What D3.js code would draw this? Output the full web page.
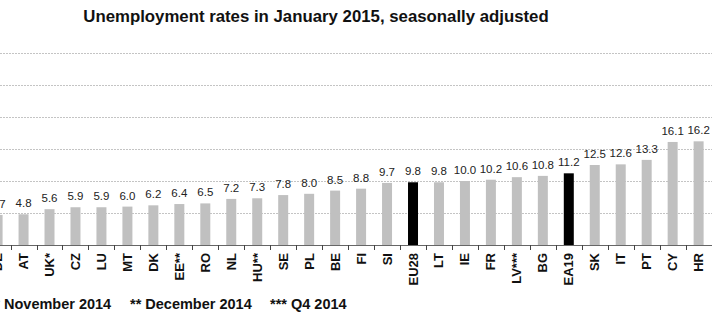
<!DOCTYPE html>
<html>
<head>
<meta charset="utf-8">
<style>
body { margin: 0; background: #fff; overflow: hidden; }
svg { display: block; font-family: "Liberation Sans", Arial, sans-serif; }
</style>
</head>
<body>
<div id="chart"></div>
<script src="https://cdn.jsdelivr.net/npm/d3@7"></script>
<script>
// countries shown, ordered by rate
var countries = ["DE", "AT", "UK*", "CZ", "LU", "MT", "DK", "EE**", "RO", "NL", "HU**", "SE", "PL", "BE", "FI", "SI",
                 "EU28", "LT", "IE", "FR", "LV***", "BG", "EA19", "SK", "IT", "PT", "CY", "HR"]
var rates = [4.7, 4.8, 5.6, 5.9, 5.9, 6.0, 6.2, 6.4, 6.5, 7.2, 7.3, 7.8, 8.0, 8.5, 8.8, 9.7,
             9.8, 9.8, 10.0, 10.2, 10.6, 10.8, 11.2, 12.5, 12.6, 13.3, 16.1, 16.2]
var aggregates = ["EU28", "EA19"]
var gridValues = [5, 10, 15, 20, 25, 30]
var footnotes = ["* November 2014", "** December 2014", "*** Q4 2014"]

var W = 712, H = 326
var svg = d3.select("#chart").append("svg")
    .attr("width", W).attr("height", H)

var data = countries.map(function(c, i){ return {country: c, value: rates[i]} })

// band scale starts a bit off the left edge (chart is cropped)
var step = 25.95
var x = d3.scaleBand()
    .domain(countries)
    .range([-15.2, -15.2 + step * countries.length])
    .paddingInner(0.615)
    .paddingOuter(0.3)

var y = d3.scaleLinear().domain([0, 30]).range([245, 53])

// title
svg.append("text")
    .attr("x", 316).attr("y", 22)
    .attr("text-anchor", "middle")
    .style("font-size", "16.8px").style("font-weight", "bold").style("fill", "#111")
    .text("Unemployment rates in January 2015, seasonally adjusted")

// grid
svg.append("g").selectAll("line")
    .data(gridValues)
    .enter().append("line")
    .attr("x1", 0).attr("x2", W)
    .attr("y1", d => Math.round(y(d)) + 0.5).attr("y2", d => Math.round(y(d)) + 0.5)
    .style("stroke", "#c4c4c4").style("stroke-width", 1)
    .style("stroke-dasharray", "2,1")

// bars
svg.append("g").selectAll("rect")
    .data(data)
    .enter().append("rect")
    .attr("x", d => x(d.country))
    .attr("width", x.bandwidth())
    .attr("y", d => y(d.value))
    .attr("height", d => y(0) - y(d.value))
    .style("fill", d => aggregates.indexOf(d.country) >= 0 ? "#000" : "#c0c0c0")

// value labels
svg.append("g").selectAll("text")
    .data(data)
    .enter().append("text")
    .attr("x", d => x(d.country) + x.bandwidth() / 2)
    .attr("y", d => y(d.value) - 7)
    .attr("text-anchor", "middle")
    .style("font-size", "11.5px").style("fill", "#222")
    .text(d => d.value.toFixed(1))

// x axis
var xAxis = svg.append("g")
    .attr("transform", "translate(0," + y(0) + ")")
xAxis.append("line")
    .attr("x1", 0).attr("x2", W).attr("y1", 0.5).attr("y2", 0.5)
    .style("stroke", "#666")
xAxis.selectAll(".tick")
    .data(countries)
    .enter().append("line")
    .attr("x1", d => Math.round(x(d) - x.step() * x.paddingInner() / 2) + 0.5)
    .attr("x2", d => Math.round(x(d) - x.step() * x.paddingInner() / 2) + 0.5)
    .attr("y1", 0).attr("y2", 5)
    .style("stroke", "#444")
xAxis.selectAll("text")
    .data(countries)
    .enter().append("text")
    .attr("transform", d => "translate(" + (x(d) + x.bandwidth() / 2 + 4.5) + ",8) rotate(-90)")
    .attr("text-anchor", "end")
    .style("font-size", "13px").style("font-weight", "bold").style("fill", "#111")
    .text(d => d)

// footnotes
var fx = [-5.7, 130, 270]
svg.append("g").selectAll("text")
    .data(footnotes)
    .enter().append("text")
    .attr("x", (d, i) => fx[i]).attr("y", 309)
    .style("font-size", "14.5px").style("font-weight", "bold").style("fill", "#111")
    .text(d => d)
</script>
</body>
</html>
